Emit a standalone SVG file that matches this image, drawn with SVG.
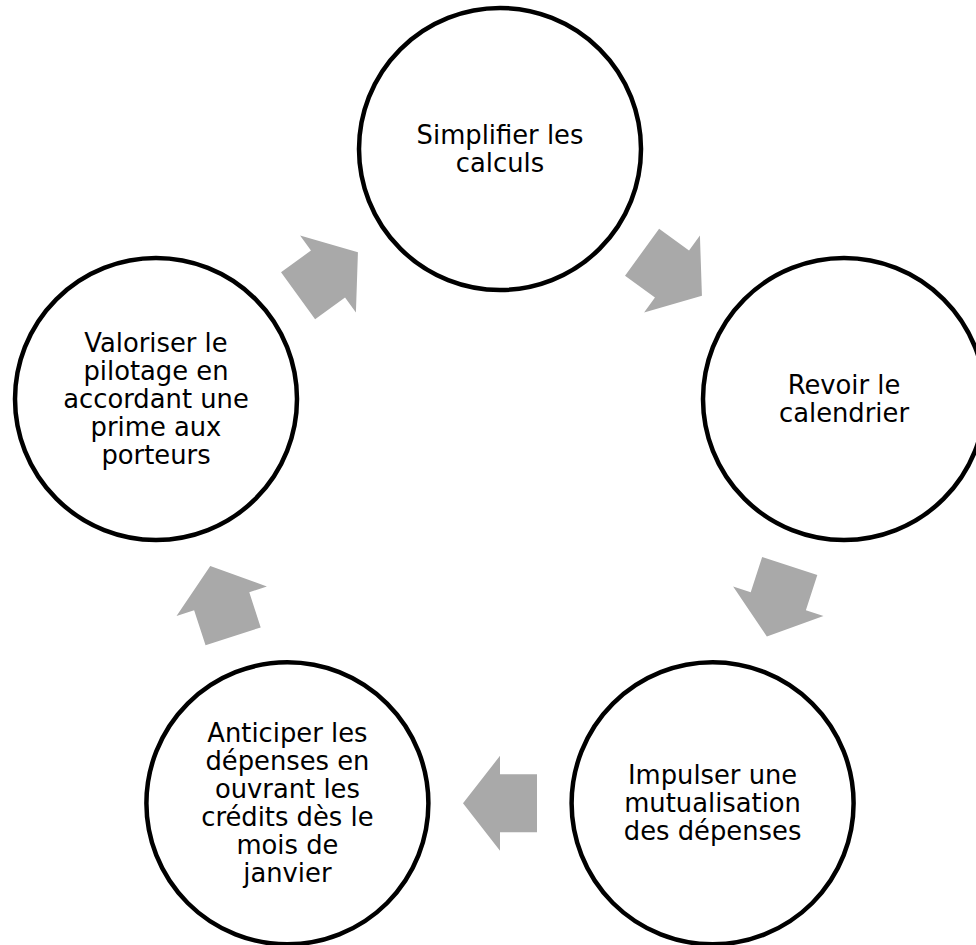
<svg xmlns="http://www.w3.org/2000/svg" width="976" height="945" viewBox="0 0 976 945">
  <style>
    .node circle { fill: #ffffff; stroke: #000000; stroke-width: 4.5; }
    .node text { font-family: "DejaVu Sans", "Liberation Sans", sans-serif; font-size: 25.8px; fill: #000000; text-anchor: middle; }
    .arrow { fill: #A9A9A9; }
  </style>
  <defs>
    <polygon id="arr" points="-37,-29 0,-29 0,-47.5 37,0 0,47.5 0,29 -37,29"/>
  </defs>
  <rect width="976" height="945" fill="#ffffff"/>
  <g id="connectors">
    <use href="#arr" class="arrow" transform="translate(328,274) rotate(-36)"/>
    <use href="#arr" class="arrow" transform="translate(672,274) rotate(36)"/>
    <use href="#arr" class="arrow" transform="translate(778.3,601.2) rotate(108)"/>
    <use href="#arr" class="arrow" transform="translate(500,803.3) rotate(180)"/>
    <use href="#arr" class="arrow" transform="translate(221.7,601.2) rotate(252)"/>
  </g>
  <g id="node-simplifier" class="node">
    <circle cx="500" cy="149" r="141"/>
    <text x="500" y="144">Simplifier les</text>
    <text x="500" y="172">calculs</text>
  </g>
  <g id="node-calendrier" class="node">
    <circle cx="844" cy="399" r="141"/>
    <text x="844" y="394">Revoir le</text>
    <text x="844" y="422">calendrier</text>
  </g>
  <g id="node-mutualisation" class="node">
    <circle cx="712.6" cy="803.3" r="141"/>
    <text x="712.6" y="784">Impulser une</text>
    <text x="712.6" y="812">mutualisation</text>
    <text x="712.6" y="840">des dépenses</text>
  </g>
  <g id="node-anticiper" class="node">
    <circle cx="287.4" cy="803.3" r="141"/>
    <text x="287.4" y="742">Anticiper les</text>
    <text x="287.4" y="770">dépenses en</text>
    <text x="287.4" y="798">ouvrant les</text>
    <text x="287.4" y="826">crédits dès le</text>
    <text x="287.4" y="854">mois de</text>
    <text x="287.4" y="882">janvier</text>
  </g>
  <g id="node-valoriser" class="node">
    <circle cx="156" cy="399" r="141"/>
    <text x="156" y="352">Valoriser le</text>
    <text x="156" y="380">pilotage en</text>
    <text x="156" y="408">accordant une</text>
    <text x="156" y="436">prime aux</text>
    <text x="156" y="464">porteurs</text>
  </g>
</svg>
